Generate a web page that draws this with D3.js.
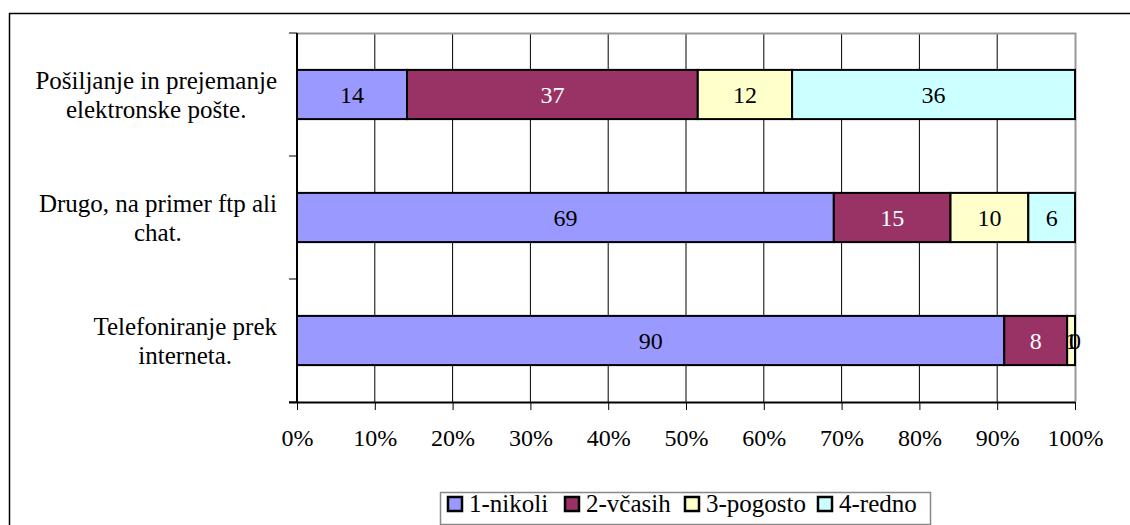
<!DOCTYPE html>
<html>
<head>
<meta charset="utf-8">
<script src="https://cdn.jsdelivr.net/npm/d3@7"></script>
<style>
  body { margin: 0; background: #fff; }
</style>
</head>
<body>
<div id="chart"></div>
<script>
// categories, top to bottom
const categories = [
  ["Pošiljanje in prejemanje", "elektronske pošte."],
  ["Drugo, na primer ftp ali", "chat."],
  ["Telefoniranje prek", "interneta."]
];
const seriesNames = ["1-nikoli", "2-včasih", "3-pogosto", "4-redno"];
const seriesColors = ["#9999ff", "#993366", "#ffffcc", "#ccffff"];
const nikoli = [14, 69, 90];
const vcasih = [37, 15, 8];
const pogosto = [12, 10, 1];
const redno = [36, 6, 0];
const tickValues = [0, 0.1, 0.2, 0.3, 0.4, 0.5, 0.6, 0.7, 0.8, 0.9, 1];

const FONT = "'Liberation Serif', Tinos, 'Times New Roman', 'Nimbus Roman', 'DejaVu Serif', serif";
const width = 1130, height = 525;
const plot = {left: 297, right: 1075, top: 33, bottom: 402};

const svg = d3.select("#chart").append("svg")
  .attr("width", width)
  .attr("height", height)
  .style("font-family", FONT);

// outer chart border (runs off right/bottom)
svg.append("rect")
  .attr("x", 9.5).attr("y", 13.5)
  .attr("width", 1140).attr("height", 530)
  .attr("fill", "none").attr("stroke", "#000").attr("stroke-width", 1.5);

let x = d3.scaleLinear().domain([0, 1]).range([plot.left, plot.right]);
let y = d3.scaleBand().domain(d3.range(categories.length))
  .range([plot.top, plot.bottom]).paddingInner(0.6).paddingOuter(0.3);
let yCat = d3.scaleBand().domain(d3.range(categories.length))
  .range([plot.top, plot.bottom]);

// gridlines
svg.append("g").selectAll("line")
  .data(tickValues.slice(1, -1))
  .enter().append("line")
  .attr("x1", d => x(d)).attr("x2", d => x(d))
  .attr("y1", plot.top).attr("y2", plot.bottom)
  .attr("stroke", "#000").attr("stroke-width", 1);

// gray top/right border of plot area
svg.append("path")
  .attr("d", `M${plot.left},${plot.top + 0.5}H${plot.right + 0.5}V${plot.bottom}`)
  .attr("fill", "none").attr("stroke", "#999").attr("stroke-width", 2);

// stacked data, normalized to each row total
let rows = categories.map((c, i) => {
  let vals = [nikoli[i], vcasih[i], pogosto[i], redno[i]];
  let total = d3.sum(vals);
  let acc = 0;
  return vals.map((v, j) => {
    let seg = {row: i, s: j, v: v, x0: acc / total, x1: (acc + v) / total};
    acc += v;
    return seg;
  });
});
let segs = rows.flat();

svg.append("g").selectAll("rect")
  .data(segs)
  .enter().append("rect")
  .attr("x", d => x(d.x0))
  .attr("y", d => y(d.row))
  .attr("width", d => x(d.x1) - x(d.x0))
  .attr("height", y.bandwidth())
  .attr("fill", d => seriesColors[d.s])
  .attr("stroke", "#000").attr("stroke-width", 2);

svg.append("g").selectAll("text")
  .data(segs)
  .enter().append("text")
  .attr("x", d => x((d.x0 + d.x1) / 2))
  .attr("y", d => y(d.row) + y.bandwidth() / 2)
  .attr("dy", "0.35em")
  .attr("text-anchor", "middle")
  .attr("font-size", 24)
  .attr("font-family", FONT)
  .attr("fill", d => d.s == 1 ? "#fff" : "#000")
  .text(d => d.v);

// x axis
let xAxis = d3.axisBottom(x).tickValues(tickValues)
  .tickFormat(d3.format(".0%")).tickSize(8).tickPadding(19);
let gx = svg.append("g")
  .attr("transform", `translate(0,${plot.bottom})`)
  .call(xAxis)
  .attr("font-family", FONT);
gx.select(".domain").attr("d", `M${plot.left - 8},0.5H${plot.right}`).attr("stroke-width", 2);
gx.selectAll("text").attr("font-size", 24).attr("fill", "#000");

// y axis line + category ticks
svg.append("line")
  .attr("x1", plot.left).attr("x2", plot.left)
  .attr("y1", plot.top).attr("y2", plot.bottom)
  .attr("stroke", "#000").attr("stroke-width", 2);
svg.append("g").selectAll("line")
  .data(d3.range(categories.length + 1))
  .enter().append("line")
  .attr("x1", plot.left - 8).attr("x2", plot.left)
  .attr("y1", d => plot.top + d * yCat.bandwidth())
  .attr("y2", d => plot.top + d * yCat.bandwidth())
  .attr("stroke", "#000").attr("stroke-width", 1);

// category labels: block right aligned, lines centered
categories.forEach((lines, i) => {
  let g = svg.append("g");
  let t = g.selectAll("text").data(lines).enter().append("text")
    .attr("font-size", 25)
    .attr("font-family", FONT)
    .attr("text-anchor", "middle")
    .attr("y", (d, k) => y(i) + y.bandwidth() / 2 + (k - (lines.length - 1) / 2) * 29)
    .attr("dy", "0.35em")
    .text(d => d);
  let maxW = d3.max(t.nodes(), n => n.getComputedTextLength());
  t.attr("x", 277 - maxW / 2);
});

// legend
let legend = svg.append("g");
legend.append("rect")
  .attr("x", 440.5).attr("y", 492.5).attr("width", 490).attr("height", 32)
  .attr("fill", "#fff").attr("stroke", "#888").attr("stroke-width", 1.5);
let legX = [448, 565, 685, 818];
seriesNames.forEach((name, i) => {
  legend.append("rect")
    .attr("x", legX[i]).attr("y", 497).attr("width", 14).attr("height", 14)
    .attr("fill", seriesColors[i]).attr("stroke", "#000").attr("stroke-width", 2.5);
  legend.append("text")
    .attr("x", legX[i] + 21).attr("y", 512)
    .attr("font-size", 25)
    .attr("font-family", FONT)
    .text(name);
});
</script>
</body>
</html>
